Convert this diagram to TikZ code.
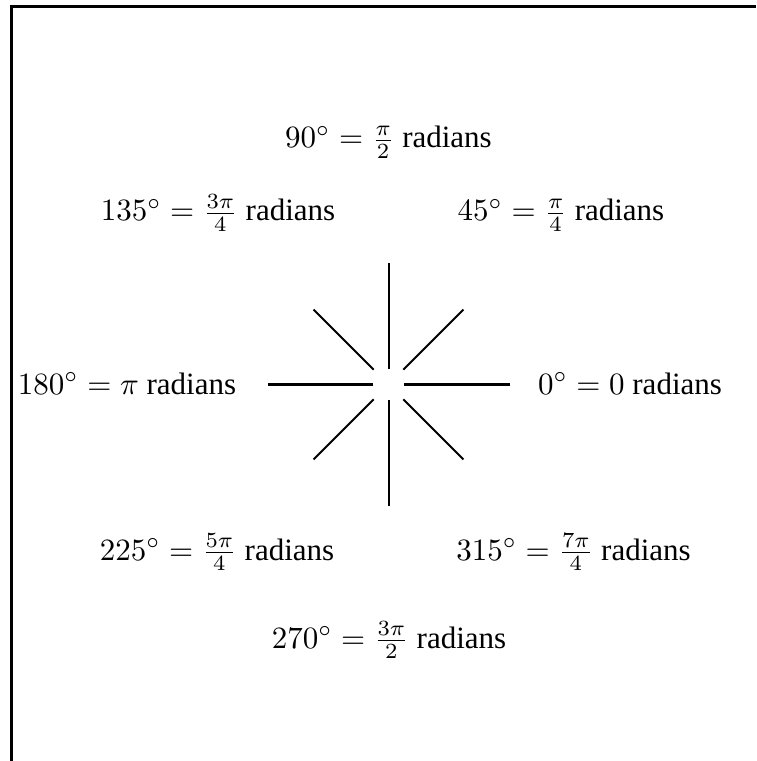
\documentclass[tikz,border=0pt]{standalone}
\usepackage[no-math]{fontspec}
\setmainfont{Liberation Serif}

\begin{document}
\begin{tikzpicture}[
    x=0.3226pt, y=-0.3226pt,
    framerule/.style={line width=0.8pt, black},
    ray/.style={line width=0.65pt, black},
    anglelabel/.style={anchor=base, inner sep=0pt, font=\normalsize}
]
    \useasboundingbox (0,0) rectangle (756,761);

    % Frame (left and top only)
    \draw[framerule] (11.5,761) -- (11.5,6.5) -- (756,6.5);

    % Rays round the centre
    \coordinate (o) at (388.5,384.5);
    \foreach \a in {0,90,180,270}
        \draw[ray, shift={(o)}] (\a:15.5) -- (\a:121);
    \foreach \a in {45,135,225,315}
        \draw[ray, shift={(o)}] (\a:21) -- (\a:106);

    % Angle labels
    \node[anglelabel] (l0)   at (630,394)   {$0^\circ = 0$ radians};
    \node[anglelabel] (l45)  at (561,221)   {$45^\circ = \frac{\pi}{4}$ radians};
    \node[anglelabel] (l90)  at (388.5,148) {$90^\circ = \frac{\pi}{2}$ radians};
    \node[anglelabel] (l135) at (218,221)   {$135^\circ = \frac{3\pi}{4}$ radians};
    \node[anglelabel] (l180) at (127,394)   {$180^\circ = \pi$ radians};
    \node[anglelabel] (l225) at (217,560)   {$225^\circ = \frac{5\pi}{4}$ radians};
    \node[anglelabel] (l270) at (389,648)   {$270^\circ = \frac{3\pi}{2}$ radians};
    \node[anglelabel] (l315) at (573.5,560) {$315^\circ = \frac{7\pi}{4}$ radians};
\end{tikzpicture}
\end{document}
